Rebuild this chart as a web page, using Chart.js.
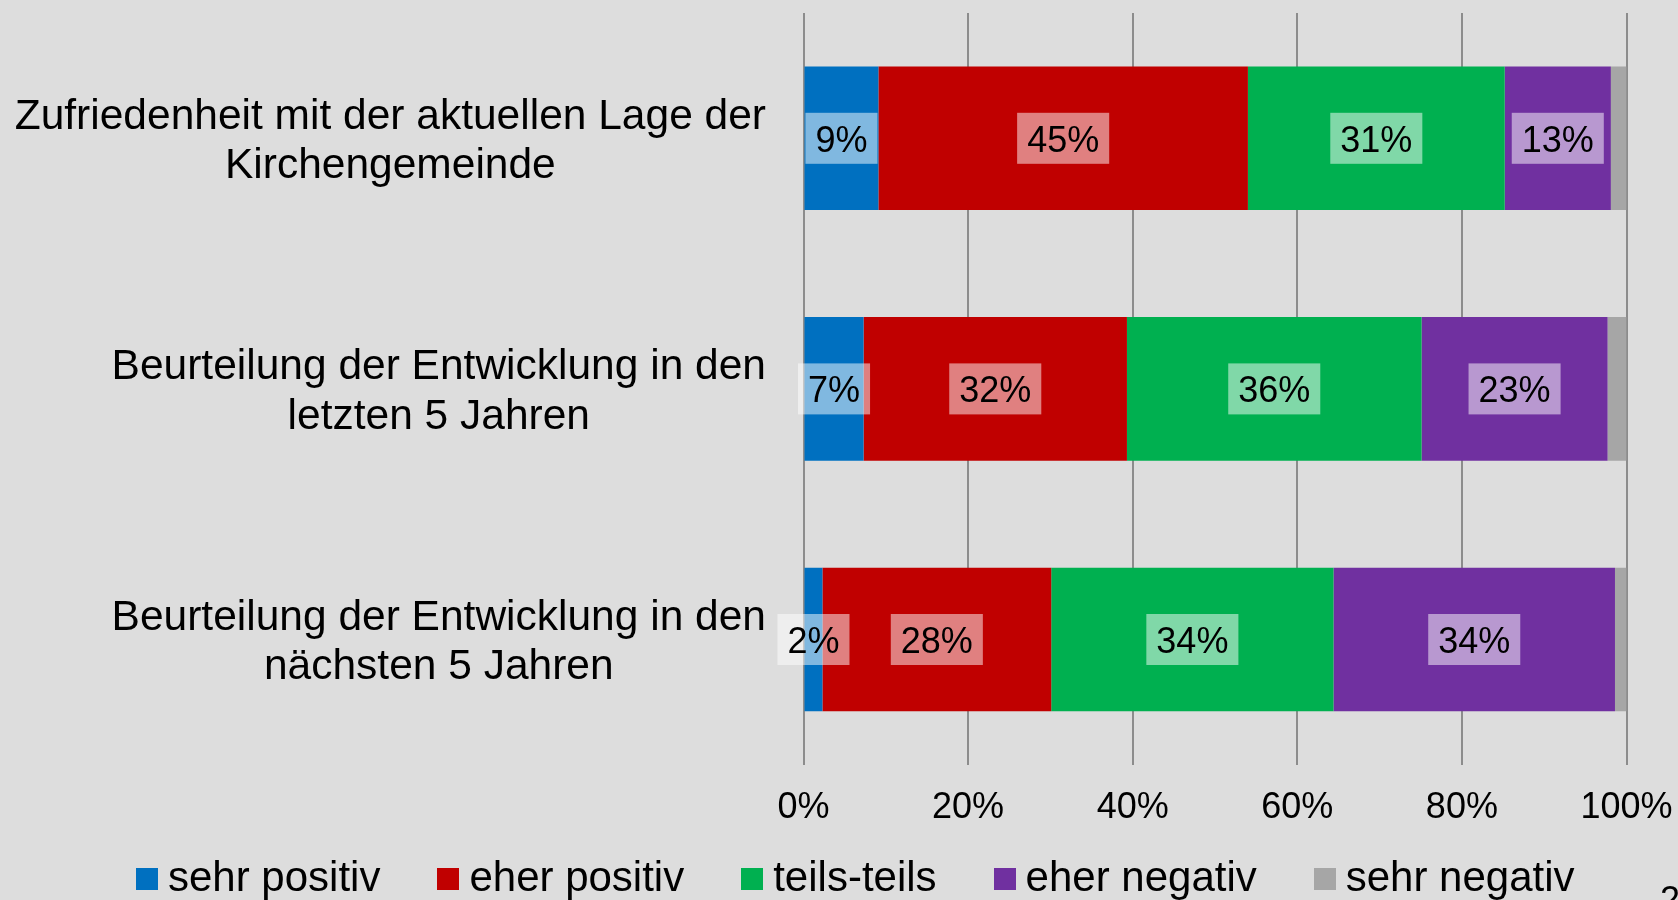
<!DOCTYPE html>
<html><head><meta charset="utf-8">
<script src="https://cdn.jsdelivr.net/npm/chart.js@4.4.0/dist/chart.umd.min.js"></script>
<style>
html,body{margin:0;padding:0;width:1678px;height:900px;overflow:hidden;background:#DDDDDD;font-family:"Liberation Sans",Arial,sans-serif;}
#wrap{position:absolute;left:0;top:0;width:1678px;height:900px;}
#legend{position:absolute;left:136px;top:856px;height:42px;display:flex;align-items:center;font-size:42px;line-height:42px;white-space:nowrap;color:#000}
.item{display:flex;align-items:center;margin-right:57px}
.sw{width:22px;height:22px;margin-right:10px;margin-top:4px}
#page{position:absolute;left:1660px;top:882px;font-size:36px;line-height:36px;color:#000}
</style></head><body>
<div id="wrap"><canvas id="c" width="1678" height="900"></canvas></div>
<div id="legend"></div><div id="page">2</div>
<script>
// ---- data ----
const categories = [
  ["Zufriedenheit mit der aktuellen Lage der", "Kirchengemeinde"],
  ["Beurteilung der Entwicklung in den", "letzten 5 Jahren"],
  ["Beurteilung der Entwicklung in den", "nächsten 5 Jahren"]
];
const seriesNames = ["sehr positiv", "eher positiv", "teils-teils", "eher negativ", "sehr negativ"];
const sehrPositiv = [9.1, 7.3, 2.3];
const eherPositiv = [44.9, 32.0, 27.8];
const teilsTeils  = [31.2, 35.8, 34.3];
const eherNegativ = [12.9, 22.6, 34.2];
const sehrNegativ = [1.9, 2.3, 1.4];
const showValueLabels = [true, true, true, true, false];
const xTickValues = [0, 20, 40, 60, 80, 100];
const seriesColors = ["#0070C0", "#C00000", "#00B050", "#7030A0", "#A6A6A6"];

const seriesValues = [sehrPositiv, eherPositiv, teilsTeils, eherNegativ, sehrNegativ];
const FONT = '"Liberation Sans", Arial, sans-serif';

// HTML legend built from series arrays
const lg = document.getElementById('legend');
seriesNames.forEach((n, i) => {
  const it = document.createElement('div'); it.className = 'item';
  const sw = document.createElement('div'); sw.className = 'sw'; sw.style.background = seriesColors[i];
  const tx = document.createElement('span'); tx.textContent = n;
  it.appendChild(sw); it.appendChild(tx); lg.appendChild(it);
});

const valueLabels = {
  id: 'valueLabels',
  afterDatasetsDraw(chart) {
    const ctx = chart.ctx;
    ctx.save();
    ctx.font = '36px ' + FONT;
    ctx.textAlign = 'center';
    ctx.textBaseline = 'alphabetic';
    chart.data.datasets.forEach((ds, di) => {
      if (!showValueLabels[di]) return;
      chart.getDatasetMeta(di).data.forEach((el, j) => {
        const p = el.getProps(['x', 'y', 'base'], true);
        const cx = (p.x + p.base) / 2;
        const txt = Math.round(ds.data[j]) + '%';
        const w = ctx.measureText(txt).width + 20;
        ctx.fillStyle = 'rgba(255,255,255,0.5)';
        ctx.fillRect(cx - w / 2, p.y - 25.5, w, 51);
        ctx.fillStyle = '#000';
        ctx.fillText(txt, cx, p.y + 13.5);
      });
    });
    ctx.restore();
  }
};

const categoryLabels = {
  id: 'categoryLabels',
  afterDraw(chart) {
    const ctx = chart.ctx, ys = chart.scales.y;
    const right = chart.chartArea.left - 37.5;
    ctx.save();
    ctx.font = '42.5px ' + FONT;
    ctx.fillStyle = '#000';
    ctx.textAlign = 'center';
    ctx.textBaseline = 'alphabetic';
    categories.forEach((lines, i) => {
      const cy = ys.getPixelForValue(i);
      const wmax = Math.max(...lines.map(l => ctx.measureText(l).width));
      const cx = right - wmax / 2;
      lines.forEach((l, k) => {
        const y = cy + (k - (lines.length - 1) / 2) * 49.3 + 15.2;
        ctx.fillText(l, cx, y);
      });
    });
    ctx.restore();
  }
};

new Chart(document.getElementById('c'), {
  type: 'bar',
  data: {
    labels: categories,
    datasets: seriesNames.map((n, i) => ({
      label: n,
      data: seriesValues[i],
      backgroundColor: seriesColors[i],
      borderWidth: 0,
      barPercentage: 0.573,
      categoryPercentage: 1
    }))
  },
  options: {
    indexAxis: 'y',
    responsive: false,
    animation: false,
    layout: { padding: { left: 0, right: 51.5, top: 13, bottom: 70 } },
    plugins: { legend: { display: false }, tooltip: { enabled: false } },
    scales: {
      x: {
        stacked: true, min: 0, max: 100,
        afterBuildTicks: s => { s.ticks = xTickValues.map(v => ({ value: v })); },
        ticks: { callback: v => v + '%', color: '#000', font: { size: 36, family: FONT, lineHeight: 2.2 }, padding: 4, maxRotation: 0 },
        grid: { color: '#8C8C8C', lineWidth: 2, drawTicks: false },
        border: { display: false },
        afterFit: s => { s.height = 65.2; }
      },
      y: {
        stacked: true,
        ticks: { display: false },
        grid: { display: false },
        border: { display: false },
        afterFit: s => { s.width = 803.5; }
      }
    }
  },
  plugins: [valueLabels, categoryLabels]
});
</script>
</body></html>
